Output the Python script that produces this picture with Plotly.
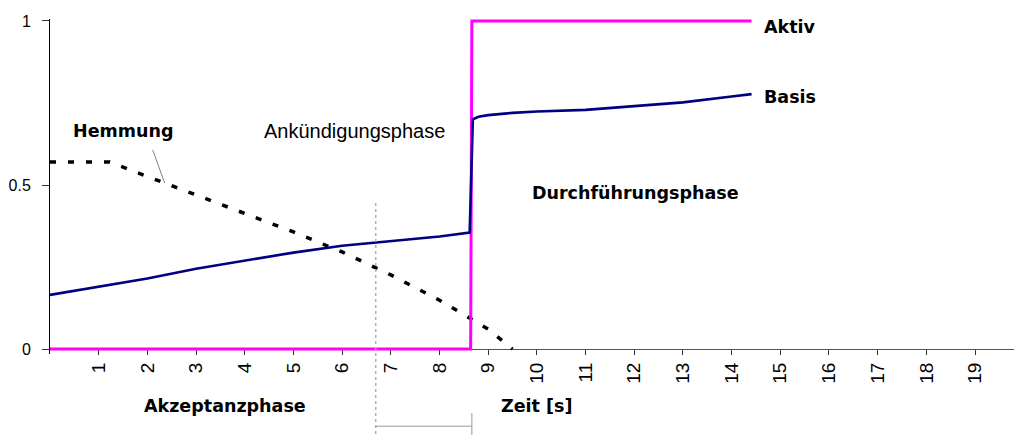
import plotly.graph_objects as go

# Achsenbeschriftung
time_ticks = list(range(1, 20))
y_ticks = [0, 0.5, 1]
y_tick_text = ["0", "0.5", "1"]

# Aktivierung (Sprungfunktion)
aktiv_t = [0, 8.64, 8.665, 14.41]
aktiv_v = [0, 0, 1, 1]

# Basisaktivierung
basis_t = [0, 1, 2, 3, 4, 5, 6, 7, 8, 8.62, 8.685, 8.8, 9.0, 9.5, 10, 11, 12, 13, 14, 14.41]
basis_v = [0.165, 0.19, 0.215, 0.245, 0.27, 0.294, 0.315, 0.33, 0.343, 0.355,
           0.70, 0.708, 0.713, 0.72, 0.724, 0.729, 0.74, 0.752, 0.77, 0.777]

# Hemmung
hemmung_t = [0, 1, 1.23, 2, 3, 4, 5, 6, 7, 8, 9, 9.5]
hemmung_v = [0.57, 0.57, 0.57, 0.526, 0.47, 0.413, 0.357, 0.296, 0.226, 0.149, 0.061, 0.0]

# Phasengrenzen
announce_start = 6.69
execute_start = 8.665

X_RANGE = [0, 19.8]
Y_RANGE = [-0.015, 1.006]


def px(x):
    return (x - X_RANGE[0]) / (X_RANGE[1] - X_RANGE[0])


def py(y):
    return (y - Y_RANGE[0]) / (Y_RANGE[1] - Y_RANGE[0])


fig = go.Figure()

fig.add_trace(go.Scatter(x=hemmung_t, y=hemmung_v, mode="lines",
                         line=dict(color="black", width=3.5, dash="6px,12px"),
                         hoverinfo="skip"))
fig.add_trace(go.Scatter(x=aktiv_t, y=aktiv_v, mode="lines",
                         line=dict(color="#FF00FF", width=3),
                         hoverinfo="skip"))
fig.add_trace(go.Scatter(x=basis_t, y=basis_v, mode="lines",
                         line=dict(color="#000080", width=2.6),
                         hoverinfo="skip"))

tick_font_x = dict(family="Liberation Sans, Arial", size=19, color="black")
tick_font_y = dict(family="Liberation Sans, Arial", size=16, color="black")

fig.update_layout(
    width=1016, height=435,
    margin=dict(l=50, r=2, t=19, b=81),
    paper_bgcolor="white", plot_bgcolor="white",
    showlegend=False,
    xaxis=dict(range=X_RANGE, anchor="free", position=py(0),
               tickmode="array", tickvals=time_ticks, ticktext=[str(t) for t in time_ticks],
               tickangle=-90, tickfont=tick_font_x,
               ticks="outside", ticklen=5, tickwidth=1, tickcolor="#333",
               showline=True, linecolor="#555", linewidth=1, layer="below traces",
               showgrid=False, zeroline=False),
    xaxis2=dict(range=X_RANGE, overlaying="x", anchor="free", position=py(0),
                tickmode="array", tickvals=time_ticks,
                ticks="inside", ticklen=6, tickwidth=1, tickcolor="#333",
                showticklabels=False, showline=False, showgrid=False, zeroline=False),
    yaxis=dict(range=Y_RANGE, tickmode="array", tickvals=y_ticks, ticktext=y_tick_text,
               tickfont=tick_font_y, ticklabelstandoff=8,
               ticks="outside", ticklen=7, tickwidth=1, tickcolor="#333",
               showline=True, linecolor="black", linewidth=1, layer="below traces",
               showgrid=False, zeroline=False),
    yaxis2=dict(range=Y_RANGE, overlaying="y", side="left",
                tickmode="array", tickvals=y_ticks,
                ticks="inside", ticklen=6, tickwidth=1, tickcolor="#333",
                showticklabels=False, showline=False, showgrid=False, zeroline=False),
)

gray = "#9a9a9a"
shapes = [
    # Beginn der Ankündigungsphase
    dict(type="line", xref="paper", yref="paper",
         x0=px(announce_start), x1=px(announce_start), y0=py(0.445), y1=py(-0.262),
         line=dict(color="#b0b0b0", width=1.5, dash="dot")),
    # Klammer unter der Achse
    dict(type="line", xref="paper", yref="paper",
         x0=px(announce_start), x1=px(execute_start), y0=py(-0.235), y1=py(-0.235),
         line=dict(color=gray, width=1)),
    dict(type="line", xref="paper", yref="paper",
         x0=px(execute_start), x1=px(execute_start), y0=py(-0.195), y1=py(-0.262),
         line=dict(color=gray, width=1)),
    # Zeiger auf die Hemmungskurve
    dict(type="line", xref="x", yref="y", x0=2.11, y0=0.607, x1=2.355, y1=0.506,
         line=dict(color="#808080", width=1)),
]
fig.update_layout(shapes=shapes)

bold_font = dict(family="DejaVu Sans", size=17.5, color="black")
labels = [
    ("<b>Aktiv</b>", 14.63, 0.982, bold_font),
    ("<b>Basis</b>", 14.63, 0.768, bold_font),
    ("<b>Hemmung</b>", 0.43, 0.665, bold_font),
    ("Ankündigungsphase", 4.36, 0.665, dict(family="Liberation Sans, Arial", size=20, color="black")),
    ("<b>Durchführungsphase</b>", 9.85, 0.475, bold_font),
    ("<b>Akzeptanzphase</b>", 1.88, -0.172, bold_font),
    ("<b>Zeit [s]</b>", 9.23, -0.172, bold_font),
]
for text, x, y, font in labels:
    fig.add_annotation(text=text, x=px(x), y=py(y), xref="paper", yref="paper",
                       xanchor="left", yanchor="middle", showarrow=False, font=font)

fig.write_html("out.html")
